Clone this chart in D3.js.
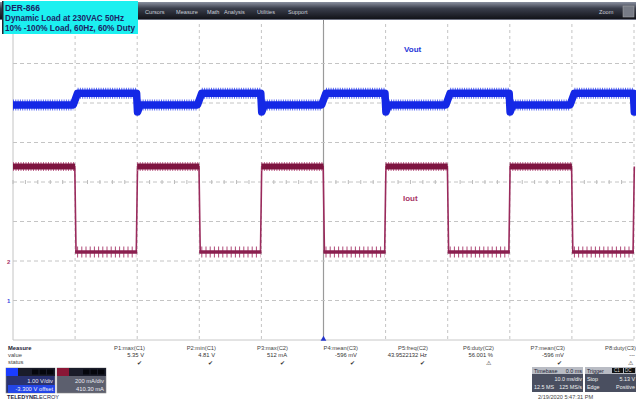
<!DOCTYPE html>
<html><head><meta charset="utf-8">
<script src="https://cdn.jsdelivr.net/npm/d3@7"></script>
<style>
html,body{margin:0;padding:0;background:#fff;}
svg{display:block;font-family:"Liberation Sans",Arial,sans-serif;}
</style></head>
<body><svg id="c" width="636" height="402"></svg>
<script>
// ---------- data ----------
const titleLines = ["DER-866", "Dynamic Load at 230VAC 50Hz", "10% -100% Load, 60Hz, 60% Duty"];
const menuItems = ["Cursors", "Measure", "Math", "Analysis", "Utilities", "Support"];
const timeDomainMs = [-50, 50];            // 10 ms/div, 10 divisions
const c1DomainV = [-1.05, 6.95];           // 1.00 V/div, 8 divisions
const c2DomainMa = [-400, 1200];           // 200 mA/div, 8 divisions
const ioutFallMs = [-40, -20, 0, 20, 40];  // load step 100% -> 10%
const ioutRiseMs = [-30, -10, 10, 30, 50]; // load step 10% -> 100%
const ioutHighMa = 478, ioutLowMa = 45;
const voutLowV = 4.9, voutHighV = 5.2, voutUnderV = 4.72;
const measureNames  = ["P1:max(C1)", "P2:min(C1)", "P3:max(C2)", "P4:mean(C3)", "P5:freq(C2)", "P6:duty(C2)", "P7:mean(C3)", "P8:duty(C3)"];
const measureValues = ["5.35 V", "4.81 V", "512 mA", "-596 mV", "43.9522132 Hz", "56.001 %", "-596 mV", "---"];
const measureStatus = ["\u2714", "\u2714", "\u2714", "\u2714", "\u2714", "\u26A0", "\u2714", "\u26A0"];
const measureRightX = [145, 216, 288, 358, 428, 494, 565, 636];

// ---------- setup ----------
const svg = d3.select("#c");
const X0 = 13, X1 = 634, Y0 = 24, Y1 = 340;
const x = d3.scaleLinear().domain(timeDomainMs).range([X0, X1]);
const y1 = d3.scaleLinear().domain(c1DomainV).range([Y1, Y0]);
const y2 = d3.scaleLinear().domain(c2DomainMa).range([Y1, Y0]);

const defs = svg.append("defs");
const g1 = defs.append("linearGradient").attr("id","bar").attr("x1",0).attr("x2",0).attr("y1",0).attr("y2",1);
g1.append("stop").attr("offset","0%").attr("stop-color","#8a90a0");
g1.append("stop").attr("offset","35%").attr("stop-color","#3a3e4c");
g1.append("stop").attr("offset","100%").attr("stop-color","#0e0f14");

// ---------- grid ----------
const grid = svg.append("g");
const xt = d3.range(timeDomainMs[0], timeDomainMs[1] + 0.1, 10);
const yt = d3.range(0, 9);
const yDiv = d3.scaleLinear().domain([0, 8]).range([Y1, Y0]);
grid.selectAll("line.v").data(xt).join("line")
  .attr("x1", d => x(d)).attr("x2", d => x(d)).attr("y1", Y0).attr("y2", Y1)
  .attr("stroke", d => d === 0 ? "#9a9a9a" : "#c4c4c4")
  .attr("stroke-width", d => d === 0 ? 1.2 : 1)
  .attr("stroke-dasharray", d => (d === 0 || d === timeDomainMs[0]) ? null : "3,3");
grid.selectAll("line.h").data(yt.filter(d => d > 0 && d < 8)).join("line")
  .attr("x1", X0).attr("x2", X1).attr("y1", d => yDiv(d)).attr("y2", d => yDiv(d))
  .attr("stroke", "#c4c4c4").attr("stroke-dasharray", "4,3");
grid.append("line").attr("x1", X0).attr("x2", X1).attr("y1", Y1).attr("y2", Y1).attr("stroke", "#c8c8c8");
const minorX = d3.range(timeDomainMs[0], timeDomainMs[1], 2);
grid.selectAll("line.mx").data(minorX).join("line")
  .attr("x1", d => x(d)).attr("x2", d => x(d)).attr("y1", yDiv(4) - 2).attr("y2", yDiv(4) + 2)
  .attr("stroke", "#bbb");
grid.append("line").attr("x1", x(0)).attr("x2", x(0)).attr("y1", 20).attr("y2", Y0).attr("stroke", "#888");

// ---------- traces ----------
const tr = svg.append("g");
// Iout
const ioutPts = [[timeDomainMs[0], ioutHighMa]];
ioutFallMs.forEach((f, i) => {
  ioutPts.push([f - 0.05, ioutHighMa], [f + 0.15, ioutLowMa]);
  const r = ioutRiseMs[i];
  ioutPts.push([r - 0.15, ioutLowMa], [r + 0.05, ioutHighMa]);
});
const lineI = d3.line().x(d => x(d[0])).y(d => y2(d[1]));
tr.append("path").attr("d", lineI(ioutPts)).attr("fill", "none").attr("stroke", "#9a2a5c").attr("stroke-width", 1.6);
const highSegI = [[timeDomainMs[0], ioutFallMs[0]]].concat(ioutRiseMs.slice(0, -1).map((r, i) => [r, ioutFallMs[i + 1]]));
const lowSegI = ioutFallMs.map((f, i) => [f, ioutRiseMs[i]]);
tr.selectAll("line.ih").data(highSegI).join("line")
  .attr("x1", d => x(d[0])).attr("x2", d => x(d[1])).attr("y1", y2(ioutHighMa)).attr("y2", y2(ioutHighMa))
  .attr("stroke", "#c0668e").attr("stroke-width", 9).attr("stroke-dasharray", "1,1.5");
tr.selectAll("line.ih2").data(highSegI).join("line")
  .attr("x1", d => x(d[0])).attr("x2", d => x(d[1])).attr("y1", y2(ioutHighMa)).attr("y2", y2(ioutHighMa))
  .attr("stroke", "#7e1540").attr("stroke-width", 6);
tr.selectAll("line.il").data(lowSegI).join("line")
  .attr("x1", d => x(d[0]) + 2).attr("x2", d => x(d[1]) - 1).attr("y1", y2(ioutLowMa)).attr("y2", y2(ioutLowMa))
  .attr("stroke", "#b04a78").attr("stroke-width", 11).attr("stroke-dasharray", "1,3.2");
tr.selectAll("line.il2").data(lowSegI).join("line")
  .attr("x1", d => x(d[0])).attr("x2", d => x(d[1])).attr("y1", y2(ioutLowMa)).attr("y2", y2(ioutLowMa))
  .attr("stroke", "#8a1f4f").attr("stroke-width", 3.5);

// Vout
const voutPts = [[timeDomainMs[0], voutLowV]];
ioutFallMs.forEach((f, i) => {
  voutPts.push([f - 0.3, voutLowV], [f + 0.4, voutHighV]);
  const r = ioutRiseMs[i];
  voutPts.push([r - 0.1, voutHighV], [r + 0.05, voutUnderV], [r + 0.5, voutLowV]);
});
const lineV = d3.line().x(d => x(d[0])).y(d => y1(d[1]));
// noise halo only along the flat levels
const highSegV = ioutFallMs.map((f, i) => [f + 0.4, ioutRiseMs[i] - 0.1]);
const lowSegV = [[timeDomainMs[0], ioutFallMs[0] - 0.3]].concat(ioutRiseMs.slice(0, -1).map((r, i) => [r + 0.5, ioutFallMs[i + 1] - 0.3]));
const haloV = highSegV.map(s => ({s, v: voutHighV})).concat(lowSegV.map(s => ({s, v: voutLowV})));
tr.selectAll("line.vh").data(haloV).join("line")
  .attr("x1", d => x(d.s[0])).attr("x2", d => x(d.s[1])).attr("y1", d => y1(d.v)).attr("y2", d => y1(d.v))
  .attr("stroke", "#5a6af0").attr("stroke-width", 11).attr("stroke-dasharray", "1,1.3");
tr.append("path").attr("d", lineV(voutPts)).attr("fill", "none").attr("stroke", "#1428e6").attr("stroke-width", 7.5)
  .attr("stroke-linejoin", "round");

// labels
svg.append("text").attr("x", 404).attr("y", 52).text("Vout").attr("fill", "#1f35d8").attr("font-size", 8).attr("font-weight", "bold");
svg.append("text").attr("x", 403).attr("y", 201).text("Iout").attr("fill", "#a83466").attr("font-size", 8).attr("font-weight", "bold");
svg.append("text").attr("x", 7).attr("y", y2(0) + 2.5).text("2").attr("fill", "#a83466").attr("font-size", 6).attr("font-weight", "bold");
svg.append("text").attr("x", 7).attr("y", yDiv(1) + 2.5).text("1").attr("fill", "#3a4ae0").attr("font-size", 6).attr("font-weight", "bold");
svg.append("path").attr("d", d3.symbol(d3.symbolTriangle, 14)()).attr("transform", `translate(${x(0)},${Y1 - 1})`).attr("fill", "#2233cc");

// ---------- top bar ----------
svg.append("rect").attr("x", 0).attr("y", 2).attr("width", 636).attr("height", 18).attr("fill", "url(#bar)");
svg.append("rect").attr("x", 0).attr("y", 19).attr("width", 636).attr("height", 1).attr("fill", "#6c7080");
svg.selectAll("text.menu").data(menuItems).join("text")
  .attr("x", (d, i) => [145, 176, 207, 224, 257, 288][i]).attr("y", 14).text(d => d)
  .attr("fill", "#c8ccd6").attr("font-size", 5.6);
svg.append("text").attr("x", 599).attr("y", 14).text("Zoom").attr("fill", "#c8ccd6").attr("font-size", 5.6);
svg.append("rect").attr("x", 623).attr("y", 6).attr("width", 11).attr("height", 11).attr("fill", "#777b86").attr("stroke", "#aaa").attr("stroke-width", 0.5);
svg.append("rect").attr("x", 2).attr("y", 1).attr("width", 136).attr("height", 33).attr("fill", "#1cf0f0");
svg.append("rect").attr("x", 2).attr("y", 1).attr("width", 1.5).attr("height", 33).attr("fill", "#223");
svg.selectAll("text.title").data(titleLines).join("text")
  .attr("x", 5).attr("y", (d, i) => 11 + i * 10).text(d => d)
  .attr("fill", "#1b2466").attr("font-size", 8.4).attr("font-weight", "bold")
  .attr("textLength", (d, i) => [35, 119, 130][i]).attr("lengthAdjust", "spacingAndGlyphs");

// ---------- measure panel ----------
const mp = svg.append("g").attr("font-size", 5.8).attr("fill", "#444");
mp.append("text").attr("x", 8).attr("y", 350).text("Measure").attr("font-weight", "bold").attr("fill", "#223");
mp.append("text").attr("x", 8).attr("y", 357).text("value");
mp.append("text").attr("x", 8).attr("y", 364).text("status");
mp.selectAll("text.mn").data(measureNames).join("text").attr("x", (d, i) => measureRightX[i]).attr("y", 350)
  .attr("text-anchor", "end").text(d => d);
mp.selectAll("text.mv").data(measureValues).join("text").attr("x", (d, i) => measureRightX[i] - 1).attr("y", 357)
  .attr("text-anchor", "end").text(d => d).attr("fill", "#333");
mp.selectAll("text.ms").data(measureStatus).join("text").attr("x", (d, i) => measureRightX[i] - 3).attr("y", 365)
  .attr("text-anchor", "end").text(d => d).attr("fill", "#333").attr("font-size", 5.5);

function chanBox(x0, color, bodyFill, l1, l2, l2fill) {
  const g = svg.append("g");
  g.append("rect").attr("x", x0).attr("y", 368).attr("width", 49).attr("height", 25).attr("fill", bodyFill).attr("stroke", "#888").attr("stroke-width", 0.6);
  g.append("rect").attr("x", x0).attr("y", 368).attr("width", 49).attr("height", 8).attr("fill", "#1a1c2a");
  g.append("rect").attr("x", x0).attr("y", 368).attr("width", 12).attr("height", 8).attr("fill", color);
  [0, 1, 2].forEach(k => g.append("rect").attr("x", x0 + 26 + k * 7.5).attr("y", 369.5).attr("width", 6.5).attr("height", 5).attr("fill", "#05060c"));
  if (l2fill) g.append("rect").attr("x", x0 + 2).attr("y", 385).attr("width", 47).attr("height", 8).attr("fill", l2fill);
  g.append("text").attr("x", x0 + 47).attr("y", 383).attr("text-anchor", "end").text(l1).attr("fill", "#e8e8f0").attr("font-size", 5.8);
  g.append("text").attr("x", x0 + 47).attr("y", 391).attr("text-anchor", "end").text(l2).attr("fill", "#f0f0f8").attr("font-size", 5.8);
}
chanBox(6, "#1a3cff", "#2a3270", "1.00 V/div", "-3.300 V offset", "#2446e8");
chanBox(57, "#8a1636", "#5c5f6e", "200 mA/div", "410.30 mA", null);
svg.append("text").attr("x", 7).attr("y", 399).text("TELEDYNE").attr("font-size", 5.6).attr("font-weight", "bold").attr("fill", "#1a2240");
svg.append("text").attr("x", 36).attr("y", 399).text("LECROY").attr("font-size", 5.6).attr("fill", "#1a2240");

const tb = svg.append("g").attr("font-size", 5.4);
tb.append("rect").attr("x", 532).attr("y", 367).attr("width", 51).attr("height", 25).attr("fill", "#4a4f60");
tb.append("rect").attr("x", 532).attr("y", 367).attr("width", 51).attr("height", 7).attr("fill", "#b9bcc4");
tb.append("text").attr("x", 534).attr("y", 372.5).text("Timebase").attr("fill", "#223");
tb.append("text").attr("x", 582).attr("y", 372.5).attr("text-anchor", "end").text("0.0 ms").attr("fill", "#223");
tb.append("text").attr("x", 582).attr("y", 381).attr("text-anchor", "end").text("10.0 ms/div").attr("fill", "#f0f0f0");
tb.append("text").attr("x", 534).attr("y", 389).text("12.5 MS").attr("fill", "#f0f0f0");
tb.append("text").attr("x", 582).attr("y", 389).attr("text-anchor", "end").text("125 MS/s").attr("fill", "#f0f0f0");
tb.append("rect").attr("x", 585).attr("y", 367).attr("width", 51).attr("height", 25).attr("fill", "#4a4f60");
tb.append("rect").attr("x", 585).attr("y", 367).attr("width", 51).attr("height", 7).attr("fill", "#b9bcc4");
tb.append("rect").attr("x", 612).attr("y", 368).attr("width", 11).attr("height", 5).attr("fill", "#111");
tb.append("rect").attr("x", 624).attr("y", 368).attr("width", 11).attr("height", 5).attr("fill", "#111");
tb.append("text").attr("x", 587).attr("y", 372.5).text("Trigger").attr("fill", "#223");
tb.append("text").attr("x", 614).attr("y", 372.3).text("C1").attr("fill", "#ddd").attr("font-size", 4.5);
tb.append("text").attr("x", 625).attr("y", 372.3).text("DC").attr("fill", "#ddd").attr("font-size", 4.5);
tb.append("text").attr("x", 587).attr("y", 381).text("Stop").attr("fill", "#f0f0f0");
tb.append("text").attr("x", 635).attr("y", 381).attr("text-anchor", "end").text("5.13 V").attr("fill", "#f0f0f0");
tb.append("text").attr("x", 587).attr("y", 389).text("Edge").attr("fill", "#f0f0f0");
tb.append("text").attr("x", 635).attr("y", 389).attr("text-anchor", "end").text("Positive").attr("fill", "#f0f0f0");
svg.append("text").attr("x", 538).attr("y", 399).text("2/19/2020 5:47:31 PM").attr("font-size", 5.6).attr("fill", "#444");
</script></body></html>
